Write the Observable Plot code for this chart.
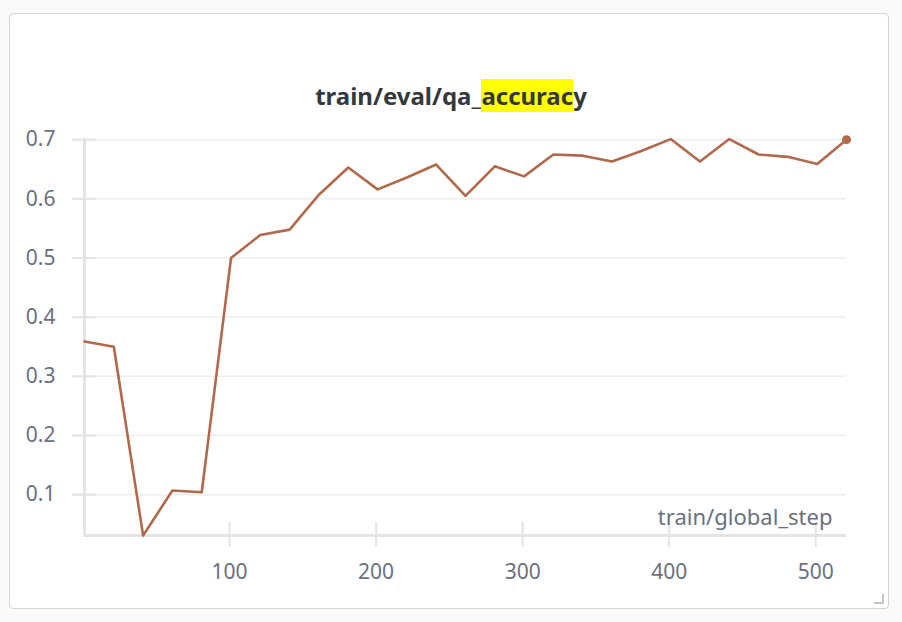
<!DOCTYPE html>
<html>
<head>
<meta charset="utf-8">
<script src="https://cdn.jsdelivr.net/npm/d3@7"></script>
<script src="https://cdn.jsdelivr.net/npm/@observablehq/plot@0.6"></script>
<style>
  html, body { margin: 0; padding: 0; background: #fafafa; width: 902px; height: 622px; overflow: hidden; }
  #card { position: absolute; left: 9px; top: 13px; width: 878px; height: 594px; background: #fff;
          border: 1.5px solid #d3d3d8; border-radius: 4px; }
  #title { position: absolute; left: 0; top: 78px; width: 902px; text-align: center;
           font-family: "Noto Sans", sans-serif; font-weight: 700; font-size: 24px; color: #35383d; line-height: 35px; }
  #title .hl { background: #ffff00; }
  #chart { position: absolute; left: 0; top: 0; }
  #corner { position: absolute; left: 874px; top: 594px; width: 8px; height: 8px;
            border-right: 2.5px solid #c6c6ca; border-bottom: 2.5px solid #c6c6ca; }
</style>
</head>
<body>
<div id="card"></div>
<div id="title">train/eval/qa_<span class="hl">accurac</span>y</div>
<div id="chart"></div>
<div id="corner"></div>
<script>
const steps = [1, 21, 41, 61, 81, 101, 121, 141, 161, 181, 201, 221, 241, 261, 281, 301, 321, 341, 361, 381, 401, 421, 441, 461, 481, 501, 521];
const accuracy = [0.359, 0.350, 0.031, 0.107, 0.104, 0.500, 0.539, 0.548, 0.607, 0.653, 0.616, 0.636, 0.658, 0.605, 0.655, 0.638, 0.675, 0.673, 0.663, 0.681, 0.701, 0.663, 0.701, 0.675, 0.671, 0.659, 0.700];
const xTicks = [100, 200, 300, 400, 500];
const yTicks = [0.1, 0.2, 0.3, 0.4, 0.5, 0.6, 0.7];
const xLabel = "train/global_step";

const data = steps.map((s, i) => ({step: s, acc: accuracy[i]}));
const last = data[data.length - 1];
const font = "Noto Sans, sans-serif";
const tickColor = "#6b7080";

const chart = Plot.plot({
  width: 902,
  height: 622,
  marginLeft: 84,
  marginRight: 56,
  marginTop: 138,
  marginBottom: 87,
  style: {background: "transparent", fontFamily: font, fontSize: "21px", color: tickColor},
  x: {domain: [steps[0], steps[steps.length - 1]]},
  y: {domain: [0.031, 0.702]},
  marks: [
    Plot.ruleY(yTicks, {stroke: "#eeeeee", strokeWidth: 1.5, insetLeft: -12}),
    Plot.axisY(yTicks, {tickSize: 24, dx: 12, tickPadding: 17, stroke: "#e4e4e4", strokeWidth: 2, fill: tickColor, fontSize: 21, label: null, tickFormat: d => d.toFixed(1)}),
    Plot.axisX(xTicks, {tickSize: 25, dy: -13, tickPadding: 17, stroke: "#e4e4e4", strokeWidth: 2, fill: tickColor, fontSize: 21, label: null}),
    Plot.ruleX([steps[0]], {stroke: "#e4e4e4", strokeWidth: 3, insetBottom: -2}),
    Plot.ruleY([0.031], {stroke: "#e4e4e4", strokeWidth: 3}),
    Plot.text([xLabel], {frameAnchor: "bottom-right", dx: -14, dy: -18, textAnchor: "end", lineAnchor: "middle", fill: tickColor, fontSize: 22}),
    Plot.lineY(data, {x: "step", y: "acc", stroke: "#b06a4b", strokeWidth: 2.6}),
    Plot.dot([last], {x: "step", y: "acc", r: 4.5, fill: "#b06a4b", stroke: "none"})
  ]
});
document.getElementById("chart").appendChild(chart);
</script>
</body>
</html>
